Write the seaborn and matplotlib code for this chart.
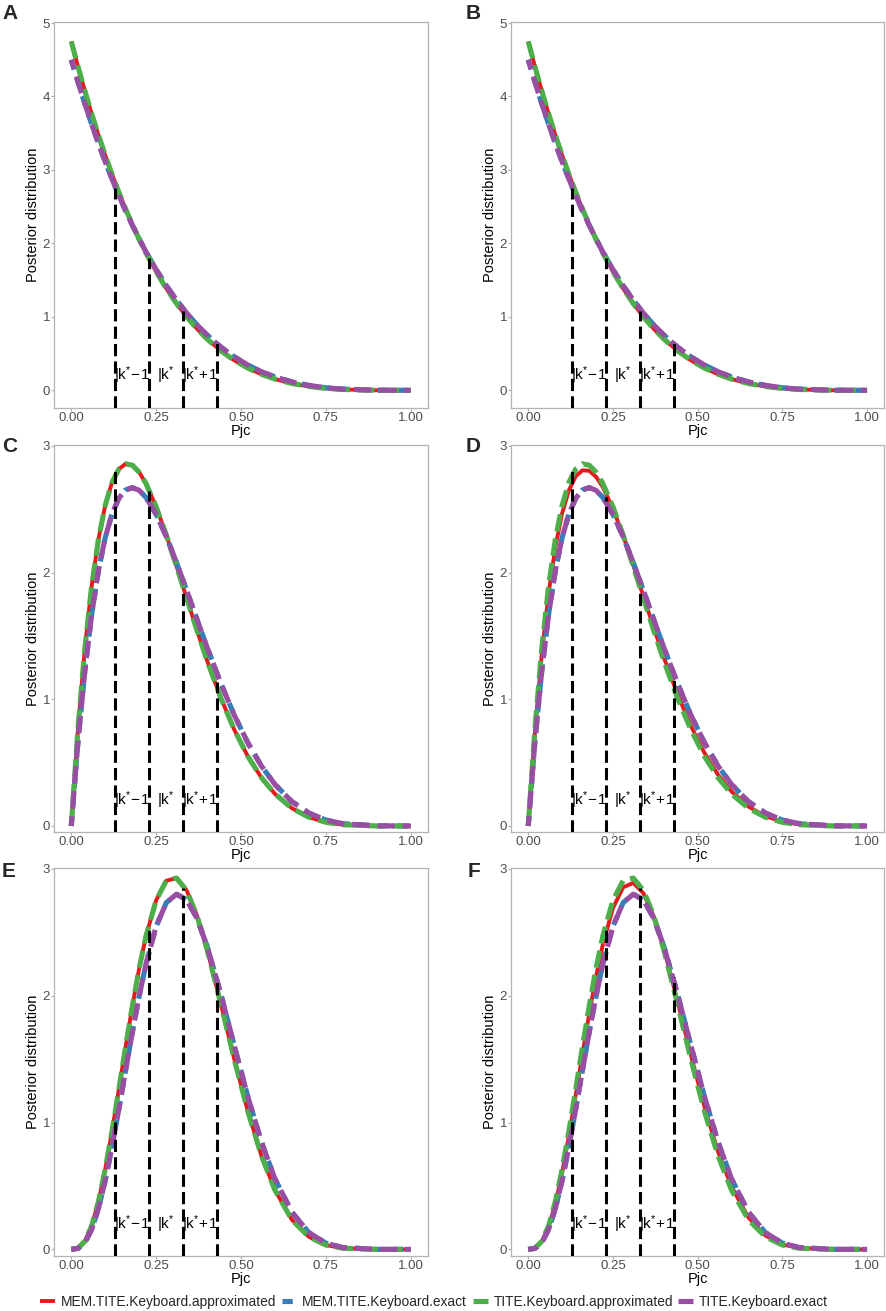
import matplotlib
matplotlib.use("Agg")
import matplotlib.pyplot as plt
from matplotlib.lines import Line2D
import seaborn as sns

pjc = [0.00, 0.02, 0.04, 0.06, 0.08, 0.10, 0.12, 0.14, 0.16, 0.18, 0.20, 0.22, 0.25, 0.28, 0.31,
       0.34, 0.37, 0.40, 0.44, 0.48, 0.52, 0.56, 0.60, 0.65, 0.70, 0.75, 0.80, 0.90, 1.00]

# panels A/B: decreasing posterior
mono_approx = [4.750, 4.403, 4.076, 3.766, 3.475, 3.200, 2.941, 2.698, 2.470, 2.257, 2.057, 1.871, 1.615, 1.386, 1.181,
               1.000, 0.840, 0.699, 0.540, 0.409, 0.303, 0.219, 0.153, 0.093, 0.052, 0.026, 0.011, 0.001, 0.000]
mono_exact = [4.500, 4.193, 3.901, 3.624, 3.361, 3.112, 2.877, 2.654, 2.444, 2.247, 2.061, 1.886, 1.644, 1.425, 1.228,
              1.051, 0.893, 0.753, 0.591, 0.456, 0.345, 0.254, 0.182, 0.114, 0.067, 0.035, 0.016, 0.001, 0.000]

# panels C/D: peak near 0.16
early_approx = [0.000, 0.778, 1.402, 1.891, 2.262, 2.530, 2.711, 2.816, 2.858, 2.847, 2.792, 2.703, 2.519, 2.296, 2.050,
                1.797, 1.546, 1.306, 1.014, 0.761, 0.550, 0.382, 0.253, 0.140, 0.069, 0.029, 0.010, 0.000, 0.000]
early_exact = [0.000, 0.674, 1.225, 1.668, 2.015, 2.276, 2.463, 2.586, 2.652, 2.670, 2.649, 2.593, 2.460, 2.284, 2.079,
               1.858, 1.632, 1.410, 1.129, 0.876, 0.657, 0.474, 0.328, 0.192, 0.102, 0.047, 0.018, 0.001, 0.000]
early_mem_approx_d = [0.000, 0.752, 1.358, 1.835, 2.200, 2.467, 2.649, 2.759, 2.807, 2.803, 2.756, 2.676, 2.504, 2.293, 2.057,
                      1.812, 1.568, 1.332, 1.043, 0.790, 0.577, 0.405, 0.272, 0.153, 0.077, 0.034, 0.012, 0.001, 0.000]

# panels E/F: peak near 0.30
mid_approx = [0.000, 0.009, 0.064, 0.185, 0.377, 0.631, 0.932, 1.260, 1.596, 1.919, 2.215, 2.469, 2.753, 2.907, 2.928,
              2.830, 2.634, 2.365, 1.942, 1.501, 1.090, 0.740, 0.467, 0.233, 0.099, 0.034, 0.009, 0.000, 0.000]
mid_exact = [0.000, 0.008, 0.053, 0.156, 0.321, 0.543, 0.809, 1.104, 1.411, 1.713, 1.997, 2.248, 2.547, 2.734, 2.801,
             2.756, 2.613, 2.392, 2.020, 1.608, 1.205, 0.848, 0.556, 0.293, 0.132, 0.049, 0.014, 0.000, 0.000]
mid_mem_approx_f = [0.000, 0.009, 0.061, 0.176, 0.360, 0.605, 0.895, 1.213, 1.540, 1.857, 2.150, 2.403, 2.691, 2.855, 2.890,
                    2.808, 2.628, 2.373, 1.965, 1.533, 1.125, 0.772, 0.494, 0.251, 0.109, 0.038, 0.011, 0.000, 0.000]

# dose-interval boundaries and the heights of the dashed markers
cutoffs = [0.13, 0.23, 0.33, 0.43]
cut_heights = {
    "A": [2.76, 1.80, 1.08, 0.64],
    "B": [2.76, 1.80, 1.08, 0.64],
    "C": [2.80, 2.64, 1.86, 1.14],
    "D": [2.80, 2.60, 1.85, 1.16],
    "E": [1.02, 2.52, 2.85, 2.11],
    "F": [1.02, 2.52, 2.85, 2.15],
}
interval_x = [0.18, 0.28, 0.38]
interval_labels = [r"$|k^{*}\!-\!1$", r"$|k^{*}$", r"$|k^{*}\!+\!1$"]

series_names = ["MEM.TITE.Keyboard.approximated", "MEM.TITE.Keyboard.exact",
                "TITE.Keyboard.approximated", "TITE.Keyboard.exact"]
series_colors = ["#E41A1C", "#377EB8", "#4DAF4A", "#984EA3"]
series_lw = [2.8, 3.7, 3.7, 3.7]
series_ls = ["-", (0, (2.0, 1.7)), (0, (3.4, 1.4)), (1.5, (3.4, 1.5))]

panel_curves = {
    "A": [mono_approx, mono_exact, mono_approx, mono_exact],
    "B": [mono_approx, mono_exact, mono_approx, mono_exact],
    "C": [early_approx, early_exact, early_approx, early_exact],
    "D": [early_mem_approx_d, early_exact, early_approx, early_exact],
    "E": [mid_approx, mid_exact, mid_approx, mid_exact],
    "F": [mid_mem_approx_f, mid_exact, mid_approx, mid_exact],
}

sns.set_theme(style="white")
plt.rcParams["font.family"] = ["Liberation Sans", "DejaVu Sans"]
plt.rcParams["mathtext.default"] = "regular"

W, H = 886, 1311
fig = plt.figure(figsize=(W / 100, H / 100), dpi=100)

# axes boxes in pixels: left, top, right, bottom
boxes = {
    "A": (54.3, 22.3, 427.7, 408.3), "B": (511.3, 22.3, 884.0, 408.3),
    "C": (54.3, 445.2, 427.7, 832.3), "D": (511.3, 445.2, 884.0, 832.3),
    "E": (54.3, 868.3, 427.7, 1255.7), "F": (511.3, 868.3, 884.0, 1255.7),
}
letter_pos = {"A": (2, 4), "B": (466, 4), "C": (2, 437), "D": (466, 437), "E": (2, 862), "F": (468, 862)}

for key, (l, t, r, b) in boxes.items():
    ax = fig.add_axes([l / W, 1 - b / H, (r - l) / W, (b - t) / H])
    for vals, col, lw, ls in zip(panel_curves[key], series_colors, series_lw, series_ls):
        sns.lineplot(x=pjc, y=vals, ax=ax, color=col, linewidth=lw, linestyle=ls,
                     estimator=None, sort=False, legend=False, solid_capstyle="butt")
    ylo, yhi = (-0.245, 5.01) if key in ("A", "B") else (-0.05, 3.005)
    ax.vlines(cutoffs, ylo, cut_heights[key], colors="black", linewidth=2.2,
              linestyles=[(0, (4.0, 1.7))], zorder=5)
    for xp, lab in zip(interval_x, interval_labels):
        ax.text(xp, 0.2, lab, ha="center", va="center", fontsize=11, color="black", zorder=6)
    ax.set_xlim(-0.05, 1.05)
    ax.set_ylim(ylo, yhi)
    ax.set_xticks([0, 0.25, 0.5, 0.75, 1.0])
    ax.set_xticklabels(["0.00", "0.25", "0.50", "0.75", "1.00"])
    ax.set_yticks(range(0, 6) if key in ("A", "B") else range(0, 4))
    for sp in ax.spines.values():
        sp.set_color("#b3b3b3")
        sp.set_linewidth(0.9)
    ax.tick_params(axis="both", which="major", bottom=True, left=True, length=2, width=0.9,
                   color="#b3b3b3", labelsize=9.5, labelcolor="#4d4d4d", pad=1)
    ax.set_xlabel("Pjc", fontsize=10.5, labelpad=0, color="black")
    ax.set_ylabel("Posterior distribution", fontsize=10.5, labelpad=2, color="black")
    ax.grid(False)
    lx, ly = letter_pos[key]
    fig.text(lx / W, 1 - ly / H, key, ha="left", va="top", fontsize=15, fontweight="bold")

handles = [Line2D([0], [0], color=c, linewidth=lw, linestyle=ls if i != 3 else (0, (3.4, 1.5)),
                  solid_capstyle="butt")
           for i, (c, lw, ls) in enumerate(zip(series_colors, series_lw, series_ls))]
fig.legend(handles, series_names, loc="center", bbox_to_anchor=(434 / W, 1 - 1302 / H), ncol=4,
           frameon=False, fontsize=9.9, handlelength=1.1, handletextpad=0.4, columnspacing=0.4,
           borderpad=0, borderaxespad=0)

fig.savefig("out.png", dpi=100)
